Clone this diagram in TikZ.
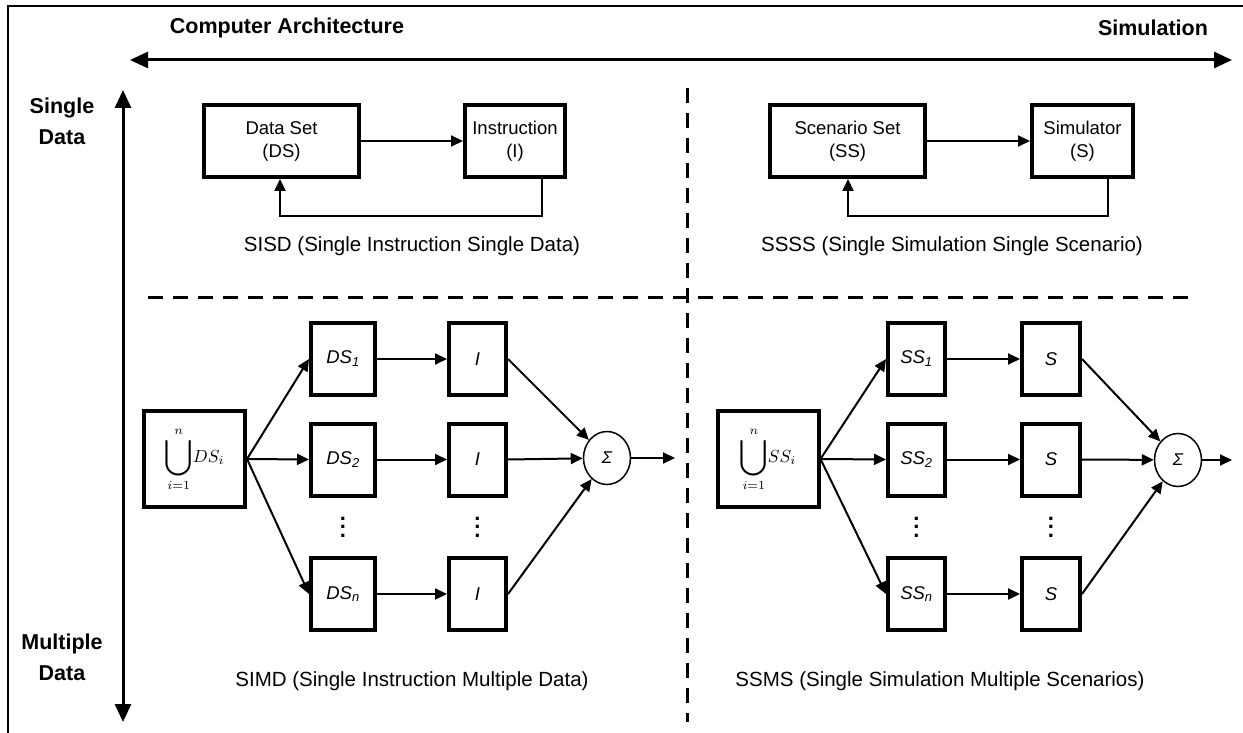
\documentclass[tikz,border=0pt]{standalone}
\usepackage{fontspec}
\setmainfont{Liberation Sans}
\usetikzlibrary{arrows.meta,shapes.geometric}
\newcommand{\colvdots}{\vbox{\baselineskip=8.5pt\lineskiplimit=0pt\hbox{.}\hbox{.}\hbox{.}}}
\newcommand{\unionof}[1]{\scalebox{1.75}{$\displaystyle\mathop{\vcenter{\hbox{\scalebox{1.45}{$\displaystyle\bigcup$}}}}\limits_{i=1}^{n}\!#1_i$}}
\begin{document}
\begin{tikzpicture}[x=1pt,y=-1pt,
  box/.style={draw,line width=4pt,inner sep=0pt,align=center,minimum height=72pt},
  bigbox/.style={box,font=\fontsize{18.5}{23}\selectfont},
  smallbox/.style={box,font=\fontsize{18.5}{22}\selectfont\itshape},
  unionbox/.style={box,minimum width=101pt,minimum height=96pt,font=\fontsize{10}{12}\selectfont},
  sumnode/.style={draw,ellipse,line width=1.5pt,inner sep=0pt,minimum width=47pt,minimum height=53pt,font=\fontsize{17}{20}\selectfont\itshape},
  arr/.style={line width=2pt,-{Triangle[length=12pt,width=11pt]}},
  bigarr/.style={line width=3pt,{Triangle[length=18pt,width=16pt]}-{Triangle[length=18pt,width=16pt]}},
  divider/.style={line width=3pt,dash pattern=on 15pt off 10pt},
  caption/.style={font=\fontsize{20.5}{24}\selectfont},
  axislabel/.style={font=\fontsize{21.5}{31}\selectfont\bfseries,align=center},
  dots/.style={inner sep=0pt,font=\fontsize{22}{24}\selectfont\bfseries}
]
\useasboundingbox (0,0) rectangle (1243,733);
% frame
\draw[line width=2pt] (8,733) -- (8,6) -- (1243,6);

% axes
\coordinate (hl) at (130,60);
\coordinate (hr) at (1232,60);
\coordinate (vt) at (123,90);
\coordinate (vb) at (123,722);
\draw[bigarr] (hl) -- (hr);
\draw[bigarr] (vt) -- (vb);
\node[axislabel] (ca) at (287,28) {Computer Architecture};
\node[axislabel] (sim) at (1153,28) {Simulation};
\node[axislabel] (sd) at (62,121) {Single\\Data};
\node[axislabel] (md) at (62,657) {Multiple\\Data};

% dividers
\coordinate (d1) at (148,297);
\coordinate (d2) at (1190,297);
\coordinate (d3) at (687,88);
\coordinate (d4) at (687,722);
\draw[divider] (d1) -- (d2);
\draw[divider] (d3) -- (d4);

% SISD
\node[bigbox,minimum width=155pt] (ds) at (281.5,141) {Data Set\\(DS)};
\node[bigbox,minimum width=100pt] (ins) at (515,141) {Instruction\\(I)};
\draw[arr] (ds) -- (ins);
\coordinate (fa1) at (542,216);
\coordinate (fa2) at (280,216);
\draw[arr] (ins.south -| fa1) -- (fa1) -- (fa2) -- (ds.south -| fa2);
\node[caption] (c1) at (412,246) {SISD (Single Instruction Single Data)};

% SSSS
\node[bigbox,minimum width=155pt] (ss) at (847.5,141) {Scenario Set\\(SS)};
\node[bigbox,minimum width=101pt] (simu) at (1082.5,141) {Simulator\\(S)};
\draw[arr] (ss) -- (simu);
\coordinate (fb1) at (1108,216);
\coordinate (fb2) at (848,216);
\draw[arr] (simu.south -| fb1) -- (fb1) -- (fb2) -- (ss.south -| fb2);
\node[caption] (c2) at (952,246) {SSSS (Single Simulation Single Scenario)};

% SIMD
\node[unionbox] (u1) at (194.5,459) {\unionof{DS}};
\node[smallbox,minimum width=64pt] (a1) at (343,359) {DS\textsubscript{\itshape 1}};
\node[smallbox,minimum width=64pt] (a2) at (343,459.5) {DS\textsubscript{\itshape 2}};
\node[smallbox,minimum width=64pt] (an) at (343,594) {DS\textsubscript{\itshape n}};
\node[smallbox,minimum width=57pt] (i1) at (477.5,359) {I};
\node[smallbox,minimum width=57pt] (i2) at (477.5,459.5) {I};
\node[smallbox,minimum width=57pt] (in) at (477.5,594) {I};
\node[dots] (da) at (343,527) {\colvdots};
\node[dots] (db) at (477.5,527) {\colvdots};
\node[sumnode] (s1) at (607,458) {Σ};
\coordinate (o1) at (675,458);
\draw[arr] (u1.east) -- (a1.west);
\draw[arr] (u1.east) -- (a2.west);
\draw[arr] (u1.east) -- (an.west);
\draw[arr] (a1) -- (i1);
\draw[arr] (a2) -- (i2);
\draw[arr] (an) -- (in);
\draw[arr] (i1.east) -- (s1);
\draw[arr] (i2.east) -- (s1);
\draw[arr] (in.east) -- (s1);
\draw[arr] (s1) -- (o1);
\node[caption] (c3) at (412,681) {SIMD (Single Instruction Multiple Data)};

% SSMS
\node[unionbox] (u2) at (768,459) {\unionof{SS}};
\node[smallbox,minimum width=57pt] (b1) at (916.5,359) {SS\textsubscript{\itshape 1}};
\node[smallbox,minimum width=57pt] (b2) at (916.5,459.5) {SS\textsubscript{\itshape 2}};
\node[smallbox,minimum width=57pt] (bn) at (916.5,594) {SS\textsubscript{\itshape n}};
\node[smallbox,minimum width=58pt] (t1) at (1051,359) {S};
\node[smallbox,minimum width=58pt] (t2) at (1051,459.5) {S};
\node[smallbox,minimum width=58pt] (tn) at (1051,594) {S};
\node[dots] (dc) at (916.5,527) {\colvdots};
\node[dots] (dd) at (1051,527) {\colvdots};
\node[sumnode] (s2) at (1178,460) {Σ};
\coordinate (o2) at (1232,460);
\draw[arr] (u2.east) -- (b1.west);
\draw[arr] (u2.east) -- (b2.west);
\draw[arr] (u2.east) -- (bn.west);
\draw[arr] (b1) -- (t1);
\draw[arr] (b2) -- (t2);
\draw[arr] (bn) -- (tn);
\draw[arr] (t1.east) -- (s2);
\draw[arr] (t2.east) -- (s2);
\draw[arr] (tn.east) -- (s2);
\draw[arr] (s2) -- (o2);
\node[caption] (c4) at (940,681) {SSMS (Single Simulation Multiple Scenarios)};
\end{tikzpicture}
\end{document}
